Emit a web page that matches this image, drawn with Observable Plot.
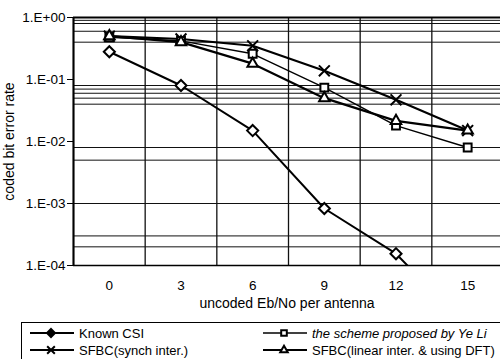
<!DOCTYPE html>
<html>
<head>
<meta charset="utf-8">
<script src="https://cdn.jsdelivr.net/npm/d3@7"></script>
<script src="https://cdn.jsdelivr.net/npm/@observablehq/plot@0.6"></script>
<style>
  html, body { margin: 0; padding: 0; background: #fff; overflow: hidden; width: 500px; height: 359px; }
  body { font-family: "Liberation Sans", Arial, sans-serif; }
  #legend { position: absolute; left: 21px; top: 322px; width: 490px; height: 44px; border: 1px solid #000; border-width: 1.5px 1px 1px 1.5px; box-sizing: border-box; }
  .item { position: absolute; display: flex; align-items: center; font-size: 13px; color: #000; height: 16px; }
  .item svg { display: block; }
</style>
</head>
<body>
<div id="chart"></div>
<div id="legend"></div>
<script>
// ---- data ----
const snr = [0, 3, 6, 9, 12, 15];
const knownCSI   = [0.28, 0.08, 0.015, 8.3e-4, 1.55e-4, 1.0e-5];
const sfbcSynch  = [0.5, 0.45, 0.35, 0.138, 0.047, 0.015];
const yeLi       = [0.48, 0.42, 0.26, 0.074, 0.018, 0.008];
const sfbcLinear = [0.5, 0.40, 0.18, 0.05, 0.0215, 0.015];
const seriesNames = ["Known CSI", "SFBC(synch inter.)", "the scheme proposed by Ye Li", "SFBC(linear inter. & using DFT)"];
const yTicks = [1, 0.1, 0.01, 0.001, 0.0001];
const yTickLabels = ["1.E+00", "1.E-01", "1.E-02", "1.E-03", "1.E-04"];
const hGrid = [1, 0.9, 0.8, 0.6, 0.4, 0.08, 0.07, 0.06, 0.05, 0.04, 0.008, 0.005, 0.001, 0.0003, 0.0002, 0.0001];
const vGrid = [-1.5, 1.5, 4.5, 7.5, 10.5, 13.5];

const symbols = ["diamond2", "times", "square2", "triangle2"];
const widths = [2, 2.2, 1.4, 2.2];
const allSeries = [knownCSI, sfbcSynch, yeLi, sfbcLinear];
const rows = [];
allSeries.forEach((vals, si) => vals.forEach((v, i) => rows.push({series: seriesNames[si], x: snr[i], y: v, si})));

const font = '"Liberation Sans", Arial, sans-serif';

const marks = [
  Plot.ruleY(hGrid, {stroke: "#111", strokeWidth: 1}),
  Plot.ruleX(vGrid, {stroke: "#111", strokeWidth: 1.3}),
  Plot.ruleY([1], {stroke: "#000", strokeWidth: 1.8}),
  Plot.ruleX([-1.5], {stroke: "#000", strokeWidth: 2}),
  Plot.ruleY([0.0001], {stroke: "#000", strokeWidth: 1.5}),
  ...seriesNames.map((name, si) => Plot.line(rows.filter(d => d.si === si), {x: "x", y: "y", stroke: "#000", strokeWidth: widths[si], clip: true})),
  ...seriesNames.map((name, si) => Plot.dot(rows.filter(d => d.si === si), {x: "x", y: "y", symbol: () => symbols[si], stroke: "#000", fill: "#fff", strokeWidth: 2, r: 5, clip: true})),
  Plot.axisY({ticks: yTicks, tickFormat: (d) => yTickLabels[yTicks.indexOf(d)], tickSize: 6, tickPadding: 2, fontSize: 13.5, label: null}),
  Plot.axisX({ticks: snr, tickSize: 0, tickPadding: 15, fontSize: 13.5, label: null}),
  Plot.text(["uncoded Eb/No per antenna"], {frameAnchor: "bottom", dy: 42, fontSize: 14, fill: "#000"}),
  Plot.text(["coded bit error rate"], {frameAnchor: "left", textAnchor: "middle", dx: -64, rotate: -90, fontSize: 14, fill: "#000"})
];

const chart = Plot.plot({
  width: 500,
  height: 320,
  marginLeft: 73,
  marginTop: 17,
  marginBottom: 55,
  marginRight: 0,
  style: {fontFamily: font, color: "#000", background: "#fff", overflow: "visible"},
  x: {type: "linear", domain: [-1.5, 16.5], range: [73, 503]},
  y: {type: "log", domain: [0.0001, 1]},
  marks
});
document.getElementById("chart").appendChild(chart);

// ---- legend ----
const legend = document.getElementById("legend");
const pos = [[8, 2], [8, 19], [241, 2], [241, 19]];
const symMap = {diamond2: d3.symbolDiamond2, times: d3.symbolTimes, square2: d3.symbolSquare2, triangle2: d3.symbolTriangle2};
seriesNames.forEach((name, si) => {
  const item = document.createElement("div");
  item.className = "item";
  item.style.left = pos[si][0] + "px";
  item.style.top = pos[si][1] + "px";
  const svg = d3.create("svg").attr("width", 46).attr("height", 14);
  svg.append("line").attr("x1", 0).attr("x2", 44).attr("y1", 7).attr("y2", 7).attr("stroke", "#000").attr("stroke-width", widths[si]);
  svg.append("path").attr("transform", "translate(21,7)").attr("d", d3.symbol(symMap[symbols[si]], 40)())
    .attr("fill", si === 0 ? "#000" : "#fff").attr("stroke", "#000").attr("stroke-width", 2);
  item.appendChild(svg.node());
  const span = document.createElement("span");
  span.textContent = name;
  span.style.marginLeft = "3px";
  if (si === 2) span.style.fontStyle = "italic";
  item.appendChild(span);
  legend.appendChild(item);
});
</script>
</body>
</html>
